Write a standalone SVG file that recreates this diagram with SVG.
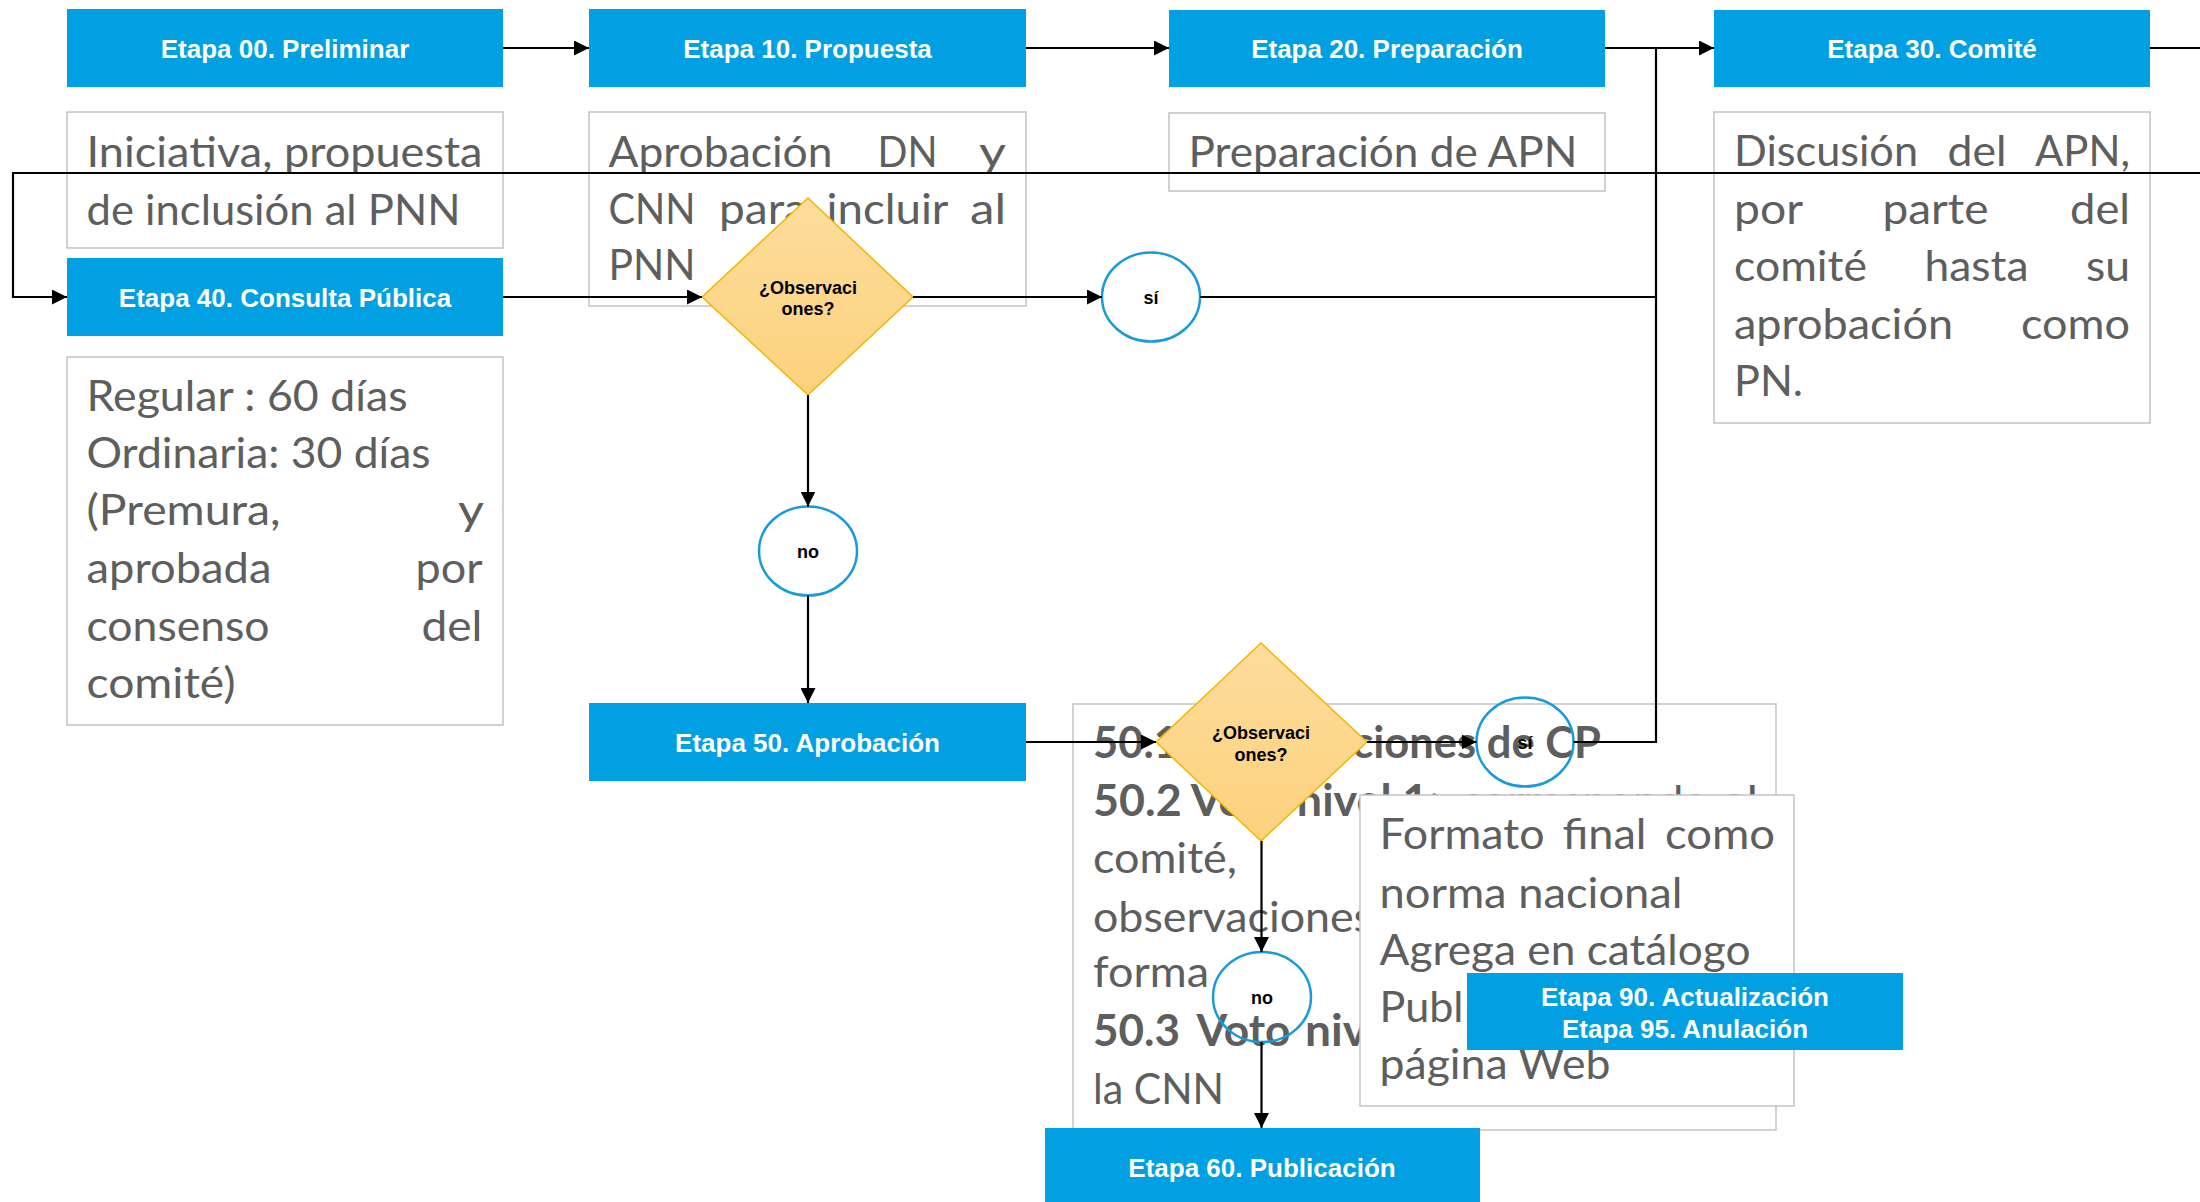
<svg xmlns="http://www.w3.org/2000/svg" width="2200" height="1202" viewBox="0 0 2200 1202">
<style>
.stage{fill:#00A0E3}
.st{font-family:'Liberation Sans',Arial,sans-serif;font-weight:700;font-size:26px;fill:#fff;text-anchor:middle}
.box{fill:#fff;stroke:#c3c3c3;stroke-width:1.5}
.bt{font-family:Lato,'Liberation Sans',sans-serif;font-size:43px;fill:#5e5e5e}
.bb{font-weight:700}
.dia{fill:url(#dg);stroke:#F4B500;stroke-width:1.5}
.dt{font-family:'Liberation Sans',Arial,sans-serif;font-weight:700;font-size:18px;fill:#000;text-anchor:middle}
.circ{fill:none;stroke:#1A9BD7;stroke-width:2.5}
.conn{fill:none;stroke:#000;stroke-width:2.2}
</style>
<defs>
<linearGradient id="dg" x1="0" y1="0" x2="0" y2="1">
<stop offset="0" stop-color="#FDDC9C"/>
<stop offset="1" stop-color="#FCD27C"/>
</linearGradient>
<marker id="ah" markerUnits="userSpaceOnUse" markerWidth="15" markerHeight="15" viewBox="0 0 15 15" refX="15" refY="7.5" orient="auto">
<path d="M0,0 L15,7.5 L0,15 z" fill="#000"/>
</marker>
</defs>
<rect x="0" y="0" width="2200" height="1202" fill="#fff"/>

<g id="box-iniciativa">
<rect class="box" x="67" y="112" width="436" height="136"/>
<text class="bt" x="86.5" y="167" textLength="396" lengthAdjust="spacingAndGlyphs">Iniciativa, propuesta</text>
<text class="bt" x="86.5" y="224.5" textLength="374" lengthAdjust="spacingAndGlyphs">de inclusión al PNN</text>
</g>

<g id="box-aprobacion-dn">
<rect class="box" x="589" y="112" width="437" height="194"/>
<text class="bt" x="608.5" y="167" textLength="224" lengthAdjust="spacingAndGlyphs">Aprobación</text>
<text class="bt" x="877.5" y="167" textLength="60" lengthAdjust="spacingAndGlyphs">DN</text>
<text class="bt" x="979" y="167" textLength="27" lengthAdjust="spacingAndGlyphs">y</text>
<text class="bt" x="608.5" y="223.5" textLength="87" lengthAdjust="spacingAndGlyphs">CNN</text>
<text class="bt" x="719" y="223.5" textLength="88" lengthAdjust="spacingAndGlyphs">para</text>
<text class="bt" x="826.5" y="223.5" textLength="122" lengthAdjust="spacingAndGlyphs">incluir</text>
<text class="bt" x="970" y="223.5" textLength="36" lengthAdjust="spacingAndGlyphs">al</text>
<text class="bt" x="608.5" y="280" textLength="87" lengthAdjust="spacingAndGlyphs">PNN</text>
</g>

<g id="box-preparacion">
<rect class="box" x="1169" y="113" width="436" height="78"/>
<text class="bt" x="1188.5" y="167" textLength="389" lengthAdjust="spacingAndGlyphs">Preparación de APN</text>
</g>

<g id="box-discusion">
<rect class="box" x="1714" y="112" width="436" height="311"/>
<text class="bt" x="1734" y="166" textLength="184" lengthAdjust="spacingAndGlyphs">Discusión</text>
<text class="bt" x="1947.5" y="166" textLength="59" lengthAdjust="spacingAndGlyphs">del</text>
<text class="bt" x="2035" y="166" textLength="95" lengthAdjust="spacingAndGlyphs">APN,</text>
<text class="bt" x="1734" y="223.5" textLength="69" lengthAdjust="spacingAndGlyphs">por</text>
<text class="bt" x="1882.5" y="223.5" textLength="106" lengthAdjust="spacingAndGlyphs">parte</text>
<text class="bt" x="2070" y="223.5" textLength="60" lengthAdjust="spacingAndGlyphs">del</text>
<text class="bt" x="1734" y="281" textLength="133" lengthAdjust="spacingAndGlyphs">comité</text>
<text class="bt" x="1924.5" y="281" textLength="104" lengthAdjust="spacingAndGlyphs">hasta</text>
<text class="bt" x="2086" y="281" textLength="44" lengthAdjust="spacingAndGlyphs">su</text>
<text class="bt" x="1734" y="338.5" textLength="219" lengthAdjust="spacingAndGlyphs">aprobación</text>
<text class="bt" x="2021" y="338.5" textLength="109" lengthAdjust="spacingAndGlyphs">como</text>
<text class="bt" x="1734" y="396" textLength="69" lengthAdjust="spacingAndGlyphs">PN.</text>
</g>

<g id="box-plazos">
<rect class="box" x="67" y="357" width="436" height="368"/>
<text class="bt" x="86.5" y="411" textLength="321" lengthAdjust="spacingAndGlyphs">Regular : 60 días</text>
<text class="bt" x="86.5" y="468.3" textLength="344" lengthAdjust="spacingAndGlyphs">Ordinaria: 30 días</text>
<text class="bt" x="86.5" y="525" textLength="194" lengthAdjust="spacingAndGlyphs">(Premura,</text>
<text class="bt" x="458" y="525" textLength="26" lengthAdjust="spacingAndGlyphs">y</text>
<text class="bt" x="86.5" y="582.7" textLength="185" lengthAdjust="spacingAndGlyphs">aprobada</text>
<text class="bt" x="415.5" y="582.7" textLength="67" lengthAdjust="spacingAndGlyphs">por</text>
<text class="bt" x="86.5" y="640.7" textLength="183" lengthAdjust="spacingAndGlyphs">consenso</text>
<text class="bt" x="421.5" y="640.7" textLength="61" lengthAdjust="spacingAndGlyphs">del</text>
<text class="bt" x="86.5" y="697.7" textLength="149" lengthAdjust="spacingAndGlyphs">comité)</text>
</g>

<g id="box-votos">
<rect class="box" x="1073" y="704" width="703" height="426"/>
<text class="bt bb" x="1093" y="758" textLength="508" lengthAdjust="spacingAndGlyphs">50.1 Observaciones de CP</text>
<text class="bt bb" x="1093" y="815.6" textLength="347" lengthAdjust="spacingAndGlyphs">50.2 Voto nivel 1:</text>
<text class="bt" x="1461" y="815.6" textLength="246" lengthAdjust="spacingAndGlyphs">corresponde</text>
<text class="bt" x="1722" y="815.6" textLength="36" lengthAdjust="spacingAndGlyphs">al</text>
<text class="bt" x="1093" y="873.3" textLength="144" lengthAdjust="spacingAndGlyphs">comité,</text>
<text class="bt" x="1093" y="931.5" textLength="280" lengthAdjust="spacingAndGlyphs">observaciones</text>
<text class="bt" x="1093" y="987" textLength="116" lengthAdjust="spacingAndGlyphs">forma</text>
<text class="bt bb" x="1093" y="1046" textLength="87" lengthAdjust="spacingAndGlyphs">50.3</text>
<text class="bt bb" x="1196.5" y="1046" textLength="94" lengthAdjust="spacingAndGlyphs">Voto</text>
<text class="bt bb" x="1305" y="1046" textLength="62" lengthAdjust="spacingAndGlyphs">niv</text>
<text class="bt" x="1093" y="1103.5" textLength="131" lengthAdjust="spacingAndGlyphs">la CNN</text>
</g>

<g id="etapa-00">
<rect class="stage" x="67" y="9" width="436" height="78"/>
<text class="st" x="285" y="57.5">Etapa 00. Preliminar</text>
</g>
<g id="etapa-10">
<rect class="stage" x="589" y="9" width="437" height="78"/>
<text class="st" x="807.5" y="57.5">Etapa 10. Propuesta</text>
</g>
<g id="etapa-20">
<rect class="stage" x="1169" y="10" width="436" height="77"/>
<text class="st" x="1387" y="57.5">Etapa 20. Preparación</text>
</g>
<g id="etapa-30">
<rect class="stage" x="1714" y="10" width="436" height="77"/>
<text class="st" x="1932" y="57.5">Etapa 30. Comité</text>
</g>
<g id="etapa-40">
<rect class="stage" x="67" y="258" width="436" height="78"/>
<text class="st" x="285" y="306.5">Etapa 40. Consulta Pública</text>
</g>
<g id="etapa-50">
<rect class="stage" x="589" y="703" width="437" height="78"/>
<text class="st" x="807.5" y="751.5">Etapa 50. Aprobación</text>
</g>
<g id="etapa-60">
<rect class="stage" x="1045" y="1128" width="435" height="78"/>
<text class="st" x="1262" y="1177">Etapa 60. Publicación</text>
</g>

<g id="decision-2">
<polygon class="dia" points="1261,643 1367,742 1261,841 1156,742"/>
<text class="dt" x="1261" y="739">¿Observaci</text>
<text class="dt" x="1261" y="760.5">ones?</text>
</g>

<g id="box-formato">
<rect class="box" x="1360" y="795" width="434" height="311"/>
<text class="bt" x="1379.5" y="849.4" textLength="165" lengthAdjust="spacingAndGlyphs">Formato</text>
<text class="bt" x="1562.5" y="849.4" textLength="84" lengthAdjust="spacingAndGlyphs">final</text>
<text class="bt" x="1665" y="849.4" textLength="110" lengthAdjust="spacingAndGlyphs">como</text>
<text class="bt" x="1379.5" y="907.7" textLength="303" lengthAdjust="spacingAndGlyphs">norma nacional</text>
<text class="bt" x="1379.5" y="965" textLength="371" lengthAdjust="spacingAndGlyphs">Agrega en catálogo</text>
<text class="bt" x="1379.5" y="1021.6" textLength="84" lengthAdjust="spacingAndGlyphs">Publ</text>
<text class="bt" x="1379.5" y="1079" textLength="231" lengthAdjust="spacingAndGlyphs">página Web</text>
</g>

<g id="etapa-90-95">
<rect class="stage" x="1467" y="973" width="436" height="77"/>
<text class="st" x="1685" y="1006">Etapa 90. Actualización</text>
<text class="st" x="1685" y="1037.5">Etapa 95. Anulación</text>
</g>

<g id="decision-1">
<polygon class="dia" points="808,198 913,297 808,395 702,297"/>
<text class="dt" x="808" y="293.5">¿Observaci</text>
<text class="dt" x="808" y="315">ones?</text>
</g>

<g id="si-1">
<ellipse class="circ" cx="1151" cy="297" rx="49" ry="44.5"/>
<text class="dt" x="1151" y="304">sí</text>
</g>
<g id="no-1">
<ellipse class="circ" cx="808" cy="551" rx="49" ry="44.5"/>
<text class="dt" x="808" y="558">no</text>
</g>
<g id="si-2">
<ellipse class="circ" cx="1525" cy="742" rx="48.5" ry="44.5"/>
<text class="dt" x="1525" y="749">sí</text>
</g>
<g id="no-2">
<ellipse class="circ" cx="1262" cy="997" rx="49" ry="45"/>
<text class="dt" x="1262" y="1004">no</text>
</g>

<g id="connectors">
<path class="conn" d="M503,48 H589" marker-end="url(#ah)"/>
<path class="conn" d="M1026,48 H1169" marker-end="url(#ah)"/>
<path class="conn" d="M1605,48 H1714" marker-end="url(#ah)"/>
<path class="conn" d="M2150,48 H2200"/>
<path class="conn" d="M2200,173 H13 V297 H67" marker-end="url(#ah)"/>
<path class="conn" d="M503,297 H702" marker-end="url(#ah)"/>
<path class="conn" d="M913,297 H1102" marker-end="url(#ah)"/>
<path class="conn" d="M1200,297 H1656"/>
<path class="conn" d="M1656,48 V742 H1573.5"/>
<path class="conn" d="M808,395 V506.5" marker-end="url(#ah)"/>
<path class="conn" d="M808,595.5 V703" marker-end="url(#ah)"/>
<path class="conn" d="M1026,742 H1156" marker-end="url(#ah)"/>
<path class="conn" d="M1367,742 H1476.5" marker-end="url(#ah)"/>
<path class="conn" d="M1261.5,841 V952" marker-end="url(#ah)"/>
<path class="conn" d="M1261.5,1042 V1128" marker-end="url(#ah)"/>
</g>
</svg>
